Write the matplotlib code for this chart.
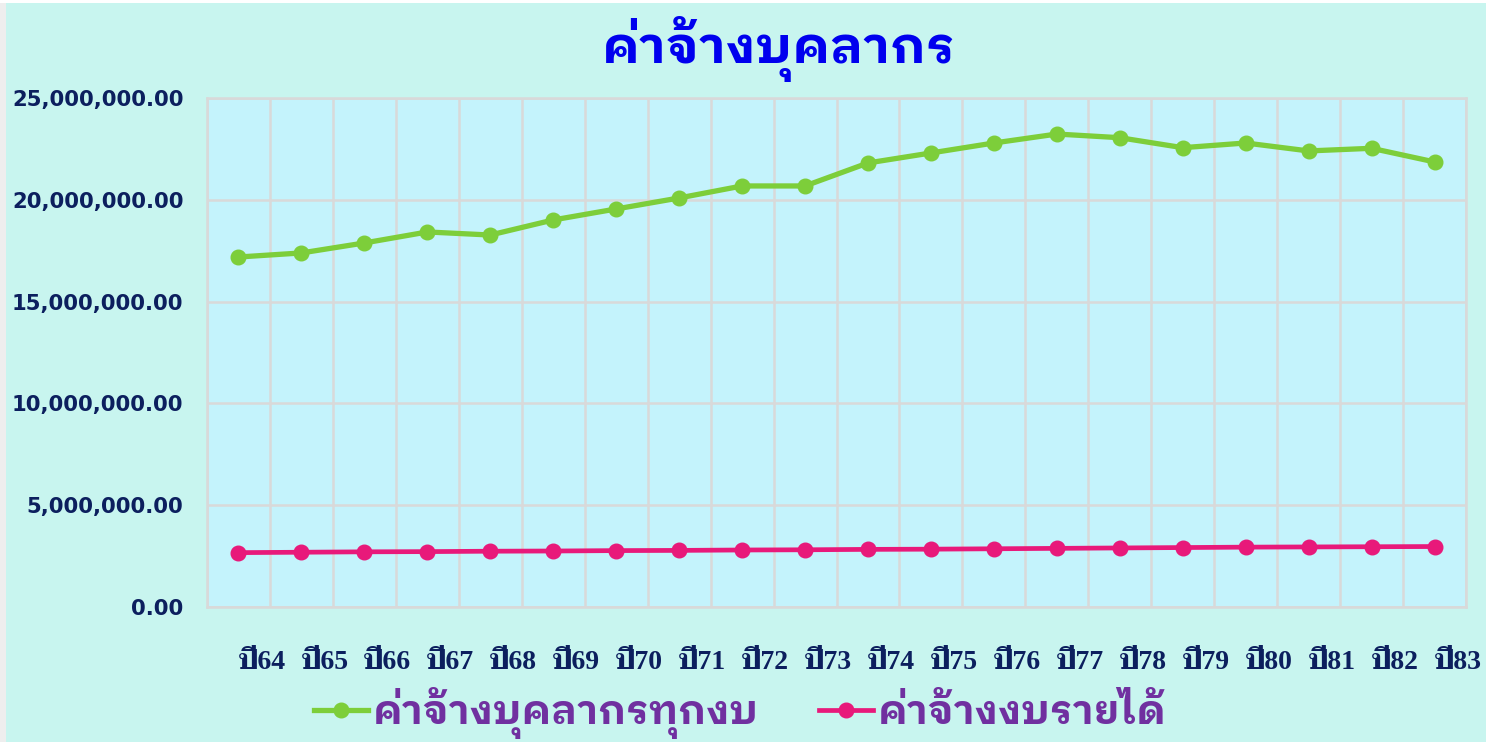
import matplotlib
matplotlib.use("Agg")
import matplotlib.pyplot as plt
from matplotlib.patches import Rectangle
from matplotlib.ticker import FuncFormatter
import numpy as np

# data (baht)
years = ['ปี64', 'ปี65', 'ปี66', 'ปี67', 'ปี68', 'ปี69', 'ปี70', 'ปี71', 'ปี72', 'ปี73',
         'ปี74', 'ปี75', 'ปี76', 'ปี77', 'ปี78', 'ปี79', 'ปี80', 'ปี81', 'ปี82', 'ปี83']
all_budget = [17190000, 17390000, 17880000, 18420000, 18270000, 19010000, 19550000,
              20090000, 20680000, 20680000, 21810000, 22300000, 22790000, 23230000,
              23050000, 22560000, 22790000, 22400000, 22530000, 21860000]
income_budget = [2670000, 2690000, 2710000, 2720000, 2740000, 2750000, 2770000,
                 2780000, 2800000, 2810000, 2830000, 2840000, 2860000, 2880000,
                 2900000, 2920000, 2940000, 2950000, 2960000, 2970000]
label_all = 'ค่าจ้างบุคลากรทุกงบ'
label_income = 'ค่าจ้างงบรายได้'
title = 'ค่าจ้างบุคลากร'

thai_sans = ['IBM Plex Sans Thai Looped', 'DejaVu Sans']
thai_serif = ['Liberation Serif', 'Taviraj', 'DejaVu Serif']
navy = '#0c1f5e'

fig = plt.figure(figsize=(14.86, 7.42), dpi=100, facecolor='#c8f5ef')
# thin light strips on the left and top edge of the slide
fig.patches.append(Rectangle((0, 0), 6 / 1486, 1, transform=fig.transFigure,
                             facecolor='#eeeeee', edgecolor='none'))
fig.patches.append(Rectangle((0, 1 - 3 / 742), 1, 3 / 742, transform=fig.transFigure,
                             facecolor='white', edgecolor='none'))

ax = fig.add_axes([207 / 1486, 1 - 607 / 742, (1466 - 207) / 1486, (607 - 98) / 742])
ax.set_facecolor('#c4f3fc')

x = np.arange(len(years))
ax.plot(x, all_budget, color='#7dce3a', lw=3.8, marker='o', ms=10.5, label=label_all)
ax.plot(x, income_budget, color='#e8197a', lw=3.4, marker='o', ms=10.5, label=label_income)

ax.set_xlim(-0.5, len(years) - 0.5)
ax.set_ylim(0, 25000000)
ax.set_yticks(np.arange(0, 25000001, 5000000))
ax.yaxis.set_major_formatter(FuncFormatter(lambda v, p: '{:,.2f}'.format(v)))

ax.set_xticks(x)
ax.set_xticklabels(years, ha='left', family=thai_serif, weight='bold', fontsize=20, color=navy)
ax.set_xticks(np.arange(-0.5, len(years), 1), minor=True)
ax.tick_params(axis='x', which='both', length=0, pad=31)
ax.tick_params(axis='y', length=0, pad=17, labelsize=15.2, labelcolor=navy)
for t in ax.get_yticklabels():
    t.set_fontweight('bold')

ax.grid(True, axis='x', which='minor', color='#d9d9d9', lw=1.8)
ax.grid(True, axis='y', which='major', color='#d9d9d9', lw=1.8)
ax.set_axisbelow(True)
for s in ax.spines.values():
    s.set_color('#d9d9d9')
    s.set_linewidth(1.8)

fig.text(0.524, 1 - 49 / 742, title, ha='center', va='center', family=thai_sans,
         weight='bold', fontsize=37, color='#0000ee')

fig.legend(loc='center', bbox_to_anchor=(0.498, 1 - 713 / 742), ncol=2, frameon=False,
           prop={'family': thai_sans, 'weight': 'bold', 'size': 29},
           labelcolor='#7030a0', handlelength=1.35, handletextpad=0.1,
           columnspacing=1.5, borderpad=0)

fig.savefig('out.png', dpi=100, facecolor=fig.get_facecolor())
